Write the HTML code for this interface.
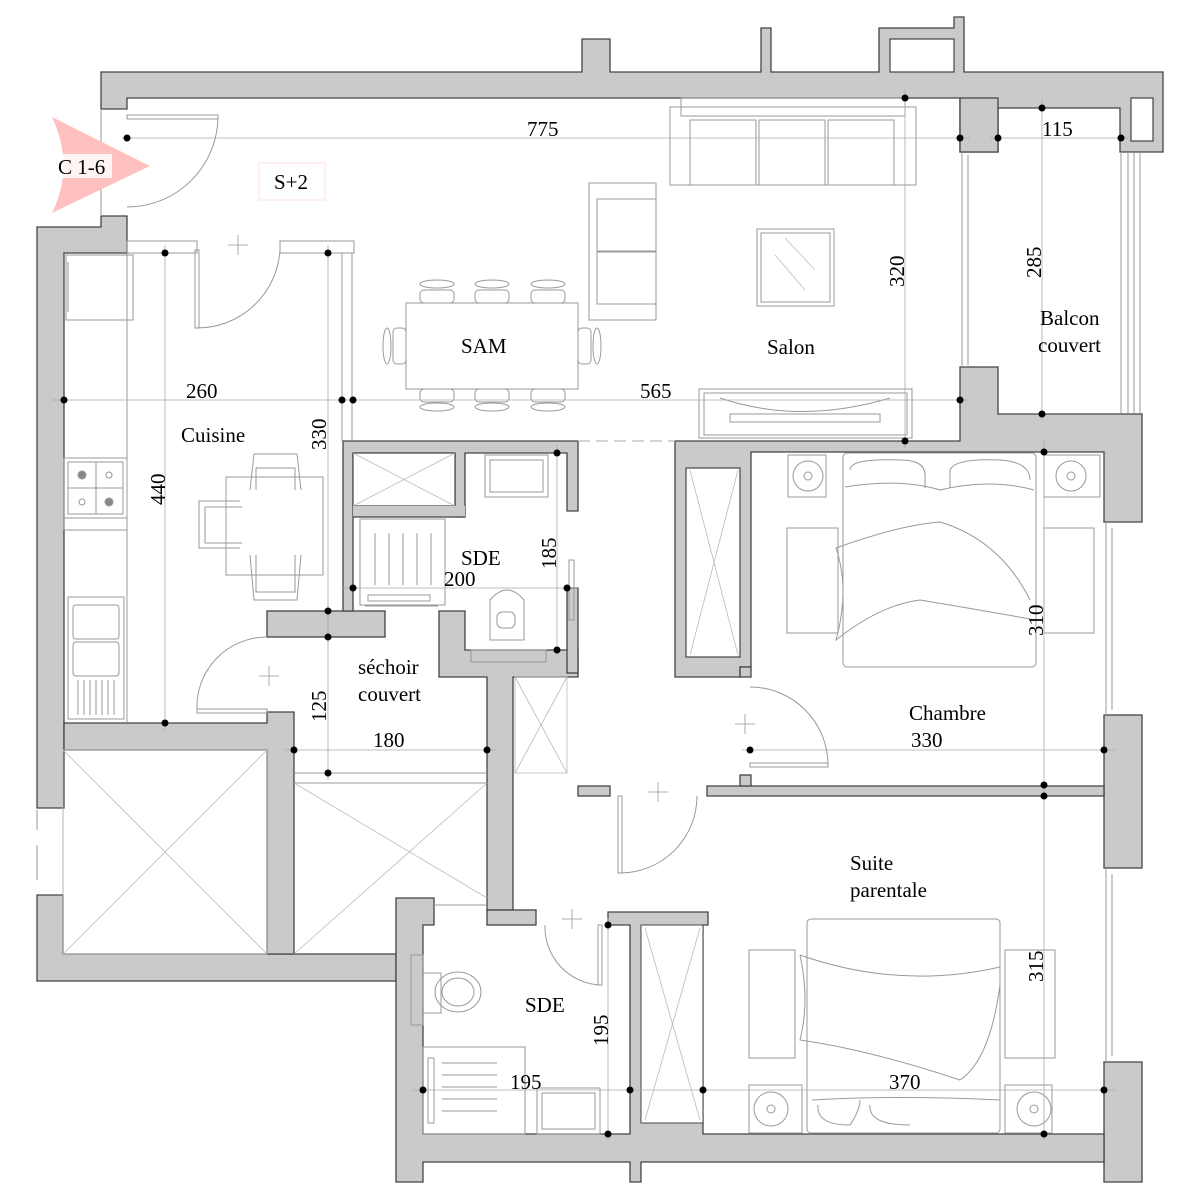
<!DOCTYPE html>
<html><head><meta charset="utf-8"><style>
html,body{margin:0;padding:0;background:#fff;}
svg{display:block;}
text{font-family:"Liberation Serif",serif;fill:#000;}
</style></head><body>
<svg width="1200" height="1200" viewBox="0 0 1200 1200" xmlns="http://www.w3.org/2000/svg">
<defs>
<style>
.w{fill:#cbc9cc;stroke:#444;stroke-width:1.3;}
.f{fill:none;stroke:#999;stroke-width:1;}
.d{stroke:#aaa;stroke-width:0.8;fill:none;}
.x{stroke:#bbb;stroke-width:0.8;fill:none;}
.t{font-size:21px;}
</style>
</defs>

<!-- ===== WALLS ===== -->
<path class="w" d="M101,72 H582 V39 H610 V72 H761 V28 H771 V72 H879 V28 H954 V17 H964 V72 H1163 V152 H1120 V108 H998 V152 H960 V98 H127 V109 H101 Z"/>
<rect x="1131" y="98" width="22" height="43" fill="#fff" stroke="#444" stroke-width="1.2"/>
<rect x="890" y="39" width="64" height="33" fill="#fff" stroke="#444" stroke-width="1.2"/>
<path class="w" d="M37,227 H101 V216 H127 V253 H64 V808 H37 Z"/>
<path class="w" d="M37,895 H63 V954 H396 V981 H37 Z"/>
<path class="w" d="M64,723 H267 V712 H294 V954 H267 V750 H64 Z"/>
<rect class="w" x="267" y="611" width="118" height="26"/>
<!-- SDE upper -->
<path class="w" d="M343,441 H578 V511 H567 V453 H465 V517 H455 V453 H353 V611 H343 Z"/>
<rect x="353" y="453" width="102" height="53" fill="#fff" stroke="#444" stroke-width="1.2"/>
<rect class="w" x="353" y="506" width="112" height="11" style="stroke:none"/>
<line x1="353" y1="517" x2="465" y2="517" stroke="#444" stroke-width="1.3"/>
<path class="w" d="M439,611 H465 V650 H578 V677 H513 V910 H487 V677 H439 Z"/>
<rect class="w" x="567" y="588" width="11" height="85"/>
<!-- salon bottom / chambre walls -->
<path class="w" d="M675,441 H960 V367 H998 V414 H1142 V522 H1104 V452 H751 V667 H740 V677 H675 Z"/>
<rect x="686" y="468" width="54" height="189" fill="#fff" stroke="#444" stroke-width="1.2"/>
<path class="w" d="M960,98 H998 V152 H960 Z"/>
<rect class="w" x="1104" y="715" width="38" height="153"/>
<path class="w" d="M1104,1062 H1142 V1182 H1104 Z"/>
<path class="w" d="M707,786 H1104 V796 H707 Z"/>
<rect class="w" x="740" y="775" width="11" height="11"/>
<rect class="w" x="578" y="786" width="32" height="10"/>
<rect class="w" x="740" y="667" width="11" height="10"/>
<path class="w" d="M396,898 H434 V925 H423 V1134 H630 V925 H608 V912 H708 V925 H703 V1134 H1104 V1162 H641 V1182 H630 V1162 H423 V1182 H396 Z"/>
<rect class="w" x="487" y="910" width="49" height="15"/>
<rect x="641" y="925" width="62" height="198" fill="#fff" stroke="#444" stroke-width="1"/>

<g class="f">
<line x1="1121" y1="152" x2="1121" y2="413"/><line x1="1128" y1="152" x2="1128" y2="413"/><line x1="1134" y1="152" x2="1134" y2="413"/><line x1="1140" y1="152" x2="1140" y2="413"/>
<line x1="962" y1="152" x2="962" y2="367"/><line x1="968" y1="155" x2="968" y2="365"/>
<line x1="1106" y1="522" x2="1106" y2="715"/><line x1="1112" y1="528" x2="1112" y2="710"/>
<line x1="1106" y1="868" x2="1106" y2="1062"/><line x1="1112" y1="874" x2="1112" y2="1056"/>
<line x1="37" y1="810" x2="37" y2="830"/><line x1="37" y1="845" x2="37" y2="880"/>
<line x1="63" y1="808" x2="63" y2="895"/>
<line x1="294" y1="773" x2="487" y2="773"/><line x1="294" y1="783" x2="487" y2="783"/>
<line x1="434" y1="905" x2="487" y2="905"/>
<line x1="365" y1="606" x2="438" y2="606"/>
<line x1="101" y1="109" x2="101" y2="216"/>
</g>

<g class="x">
<rect x="63" y="750" width="204" height="204"/><line x1="63" y1="750" x2="267" y2="954"/><line x1="267" y1="750" x2="63" y2="954"/>
<line x1="294" y1="783" x2="487" y2="898"/><line x1="294" y1="954" x2="487" y2="783"/>
<line x1="353" y1="453" x2="455" y2="506"/><line x1="455" y1="453" x2="353" y2="506"/>
<rect x="515" y="677" width="52" height="96"/><line x1="515" y1="677" x2="567" y2="773"/><line x1="567" y1="677" x2="515" y2="773"/>
<line x1="690" y1="470" x2="738" y2="655"/><line x1="738" y1="470" x2="690" y2="655"/>
<line x1="645" y1="928" x2="700" y2="1120"/><line x1="700" y1="928" x2="645" y2="1120"/>
</g>

<line x1="578" y1="441" x2="675" y2="441" stroke="#aaa" stroke-dasharray="12,6"/>

<g class="f">
<rect x="670" y="107" width="246" height="78"/><rect x="681" y="98" width="224" height="18"/>
<rect x="690" y="120" width="66" height="65"/><rect x="759" y="120" width="66" height="65"/><rect x="828" y="120" width="66" height="65"/>
<rect x="589" y="183" width="67" height="137"/><rect x="597" y="199" width="59" height="52"/><rect x="597" y="252" width="59" height="52"/>
<rect x="757" y="229" width="77" height="77"/><rect x="761" y="233" width="69" height="69"/>
<line x1="785" y1="238" x2="815" y2="270" stroke="#ccc"/><line x1="775" y1="255" x2="805" y2="290" stroke="#ccc"/>
<rect x="699" y="389" width="213" height="49"/><rect x="704" y="393" width="203" height="42"/>
<rect x="730" y="414" width="150" height="8"/><path d="M720,398 Q800,425 890,398"/>
<rect x="406" y="303" width="172" height="86"/>
<g><rect x="420" y="290" width="34" height="13" rx="4"/><rect x="475" y="290" width="34" height="13" rx="4"/><rect x="531" y="290" width="34" height="13" rx="4"/>
<ellipse cx="437" cy="284" rx="17" ry="4"/><ellipse cx="492" cy="284" rx="17" ry="4"/><ellipse cx="548" cy="284" rx="17" ry="4"/>
<rect x="420" y="389" width="34" height="13" rx="4"/><rect x="475" y="389" width="34" height="13" rx="4"/><rect x="531" y="389" width="34" height="13" rx="4"/>
<ellipse cx="437" cy="407" rx="17" ry="4"/><ellipse cx="492" cy="407" rx="17" ry="4"/><ellipse cx="548" cy="407" rx="17" ry="4"/>
<rect x="393" y="328" width="13" height="36" rx="4"/><ellipse cx="387" cy="346" rx="4" ry="18"/>
<rect x="578" y="328" width="13" height="36" rx="4"/><ellipse cx="597" cy="346" rx="4" ry="18"/></g>
<rect x="66" y="255" width="67" height="65"/><line x1="68" y1="262" x2="68" y2="312"/>
<line x1="127" y1="253" x2="127" y2="723"/>
<rect x="64" y="458" width="63" height="60"/><rect x="68" y="462" width="55" height="52"/><rect x="64" y="518" width="63" height="12"/>
<circle cx="82" cy="475" r="4" fill="#888"/><circle cx="109" cy="475" r="3"/><circle cx="82" cy="502" r="3"/><circle cx="109" cy="502" r="4" fill="#888"/>
<line x1="96" y1="462" x2="96" y2="514"/><line x1="68" y1="488" x2="123" y2="488"/>
<rect x="68" y="597" width="56" height="122"/><rect x="73" y="605" width="46" height="34" rx="3"/><rect x="73" y="642" width="46" height="34" rx="3"/>
<path d="M78,680 V715 M84,680 V715 M90,680 V715 M96,680 V715 M102,680 V715 M108,680 V715 M114,680 V715"/>
<rect x="226" y="477" width="97" height="98"/>
<path d="M250,490 L254,454 H297 L301,490 M256,490 V468 H295 V490"/>
<path d="M250,555 L254,600 H297 L301,555 M256,555 V592 H295 V555"/>
<path d="M240,501 H199 V548 H240 M242,507 H205 V543 H242"/>
<rect x="485" y="455" width="63" height="42"/><rect x="490" y="460" width="53" height="32"/>
<rect x="360" y="519" width="85" height="86"/><rect x="368" y="595" width="62" height="6"/>
<path d="M375,533 V585 M389,533 V585 M403,533 V585 M417,533 V585 M431,533 V585"/>
<path d="M490,640 V600 Q507,580 524,600 V640 Z"/><rect x="497" y="612" width="18" height="16" rx="5"/>
<rect x="471" y="650" width="75" height="12"/>
<rect x="843" y="453" width="193" height="214" rx="4"/>
<path d="M845,487 Q900,478 940,490 Q990,478 1034,490"/>
<path d="M850,470 Q850,458 900,460 Q925,460 925,475 L925,488 M950,488 L950,470 Q955,458 1000,460 Q1030,462 1030,480"/>
<path d="M836,548 Q900,525 940,522 Q1000,540 1030,600 M836,548 Q850,590 836,640 Q880,605 920,600 Q980,610 1036,620"/>
<rect x="788" y="455" width="38" height="42"/><circle cx="808" cy="476" r="15"/><circle cx="808" cy="476" r="4"/>
<rect x="1044" y="455" width="56" height="42"/><circle cx="1071" cy="476" r="15"/><circle cx="1071" cy="476" r="4"/>
<rect x="787" y="528" width="51" height="105"/><rect x="1044" y="528" width="50" height="105"/>
<rect x="807" y="919" width="193" height="214" rx="4"/>
<path d="M800,955 Q900,990 1000,967 M800,955 Q810,1000 800,1040 Q870,1050 960,1080 Q990,1060 1000,985"/>
<path d="M812,1100 Q900,1095 1000,1100 M818,1105 Q816,1125 850,1125 Q860,1110 860,1100 M870,1105 Q868,1125 910,1125"/>
<rect x="749" y="1085" width="53" height="48"/><circle cx="771" cy="1109" r="17"/><circle cx="771" cy="1109" r="4"/>
<rect x="1005" y="1085" width="47" height="48"/><circle cx="1034" cy="1109" r="17"/><circle cx="1034" cy="1109" r="4"/>
<rect x="749" y="950" width="46" height="108"/><rect x="1005" y="950" width="50" height="108"/>
<rect x="411" y="955" width="12" height="70"/>
<rect x="423" y="973" width="18" height="40"/><ellipse cx="458" cy="992" rx="23" ry="20"/><ellipse cx="458" cy="992" rx="16" ry="14"/>
<rect x="423" y="1047" width="102" height="87"/><rect x="428" y="1058" width="6" height="65"/>
<path d="M442,1063 H497 M442,1075 H497 M442,1087 H497 M442,1099 H497 M442,1111 H497"/>
<rect x="537" y="1088" width="63" height="46"/><rect x="542" y="1093" width="53" height="36"/>
</g>

<g class="f">
<rect x="127" y="115" width="91" height="4"/><path d="M218,117 A91,91 0 0 1 127,207"/>
<rect x="195" y="250" width="4" height="78"/><path d="M197,328 A83,83 0 0 0 280,250"/>
<rect x="127" y="241" width="70" height="12"/><rect x="280" y="241" width="74" height="12"/>
<line x1="342" y1="253" x2="342" y2="441"/><line x1="352" y1="253" x2="352" y2="441"/>
<rect x="197" y="709" width="70" height="4"/><path d="M197,711 A70,70 0 0 1 267,637"/>
<rect x="750" y="763" width="78" height="4"/><path d="M828,765 A78,78 0 0 0 750,687"/>
<rect x="618" y="796" width="4" height="77"/><path d="M620,873 A77,77 0 0 0 697,796"/>
<rect x="598" y="925" width="4" height="60"/><path d="M600,985 A58,58 0 0 1 545,925"/>
<rect x="569" y="560" width="5" height="60"/>
</g>
<g stroke="#999" stroke-width="0.8">
<line x1="228" y1="245" x2="248" y2="245"/><line x1="238" y1="235" x2="238" y2="255"/>
<line x1="259" y1="676" x2="279" y2="676"/><line x1="269" y1="666" x2="269" y2="686"/>
<line x1="735" y1="724" x2="755" y2="724"/><line x1="745" y1="714" x2="745" y2="734"/>
<line x1="648" y1="792" x2="668" y2="792"/><line x1="658" y1="782" x2="658" y2="802"/>
<line x1="562" y1="919" x2="582" y2="919"/><line x1="572" y1="909" x2="572" y2="929"/>
</g>

<g class="d">
<line x1="122" y1="138" x2="970" y2="138"/><line x1="990" y1="138" x2="1128" y2="138"/>
<line x1="905" y1="90" x2="905" y2="448"/><line x1="1042" y1="100" x2="1042" y2="420"/>
<line x1="52" y1="400" x2="970" y2="400"/>
<line x1="165" y1="245" x2="165" y2="730"/><line x1="328" y1="245" x2="328" y2="780"/>
<line x1="285" y1="750" x2="497" y2="750"/>
<line x1="343" y1="588" x2="578" y2="588"/><line x1="557" y1="445" x2="557" y2="655"/>
<line x1="1044" y1="441" x2="1044" y2="1140"/><line x1="742" y1="750" x2="1115" y2="750"/>
<line x1="413" y1="1090" x2="1115" y2="1090"/><line x1="608" y1="918" x2="608" y2="1140"/>
</g>
<g fill="#000">
<circle cx="127" cy="138" r="3.5"/><circle cx="960" cy="138" r="3.5"/><circle cx="998" cy="138" r="3.5"/><circle cx="1121" cy="138" r="3.5"/>
<circle cx="905" cy="98" r="3.5"/><circle cx="905" cy="441" r="3.5"/><circle cx="1042" cy="108" r="3.5"/><circle cx="1042" cy="414" r="3.5"/>
<circle cx="64" cy="400" r="3.5"/><circle cx="342" cy="400" r="3.5"/><circle cx="353" cy="400" r="3.5"/><circle cx="960" cy="400" r="3.5"/>
<circle cx="165" cy="253" r="3.5"/><circle cx="328" cy="253" r="3.5"/><circle cx="165" cy="723" r="3.5"/>
<circle cx="328" cy="611" r="3.5"/><circle cx="328" cy="637" r="3.5"/><circle cx="328" cy="773" r="3.5"/>
<circle cx="294" cy="750" r="3.5"/><circle cx="487" cy="750" r="3.5"/>
<circle cx="353" cy="588" r="3.5"/><circle cx="567" cy="588" r="3.5"/><circle cx="557" cy="453" r="3.5"/><circle cx="557" cy="650" r="3.5"/>
<circle cx="1044" cy="452" r="3.5"/><circle cx="1044" cy="785" r="3.5"/><circle cx="1044" cy="796" r="3.5"/><circle cx="1044" cy="1134" r="3.5"/>
<circle cx="750" cy="750" r="3.5"/><circle cx="1104" cy="750" r="3.5"/>
<circle cx="423" cy="1090" r="3.5"/><circle cx="630" cy="1090" r="3.5"/><circle cx="703" cy="1090" r="3.5"/><circle cx="1104" cy="1090" r="3.5"/>
<circle cx="608" cy="925" r="3.5"/><circle cx="608" cy="1134" r="3.5"/>
</g>

<path d="M52,117 L150,166 L52,213 Q75,166 52,117 Z" fill="#ffc0c0"/>
<rect x="60" y="154" width="52" height="24" fill="#fff" opacity="0.8"/>
<rect x="259" y="163" width="66" height="37" fill="none" stroke="#fde" stroke-width="1"/>

<g class="t">
<text x="58" y="174">C 1-6</text>
<text x="274" y="189">S+2</text>
<text x="527" y="136">775</text>
<text x="1042" y="136">115</text>
<text x="461" y="353">SAM</text>
<text x="767" y="354">Salon</text>
<text x="1040" y="325">Balcon</text>
<text x="1038" y="352">couvert</text>
<text x="186" y="398">260</text>
<text x="640" y="398">565</text>
<text x="181" y="442">Cuisine</text>
<text x="461" y="565">SDE</text>
<text x="444" y="586">200</text>
<text x="358" y="674">séchoir</text>
<text x="358" y="701">couvert</text>
<text x="373" y="747">180</text>
<text x="909" y="720">Chambre</text>
<text x="911" y="747">330</text>
<text x="850" y="870">Suite</text>
<text x="850" y="897">parentale</text>
<text x="525" y="1012">SDE</text>
<text x="510" y="1089">195</text>
<text x="889" y="1089">370</text>
<text transform="translate(904,287) rotate(-90)">320</text>
<text transform="translate(1041,278) rotate(-90)">285</text>
<text transform="translate(165,505) rotate(-90)">440</text>
<text transform="translate(326,450) rotate(-90)">330</text>
<text transform="translate(326,722) rotate(-90)">125</text>
<text transform="translate(556,569) rotate(-90)">185</text>
<text transform="translate(1043,636) rotate(-90)">310</text>
<text transform="translate(608,1046) rotate(-90)">195</text>
<text transform="translate(1043,982) rotate(-90)">315</text>
</g>
</svg>
</body></html>
